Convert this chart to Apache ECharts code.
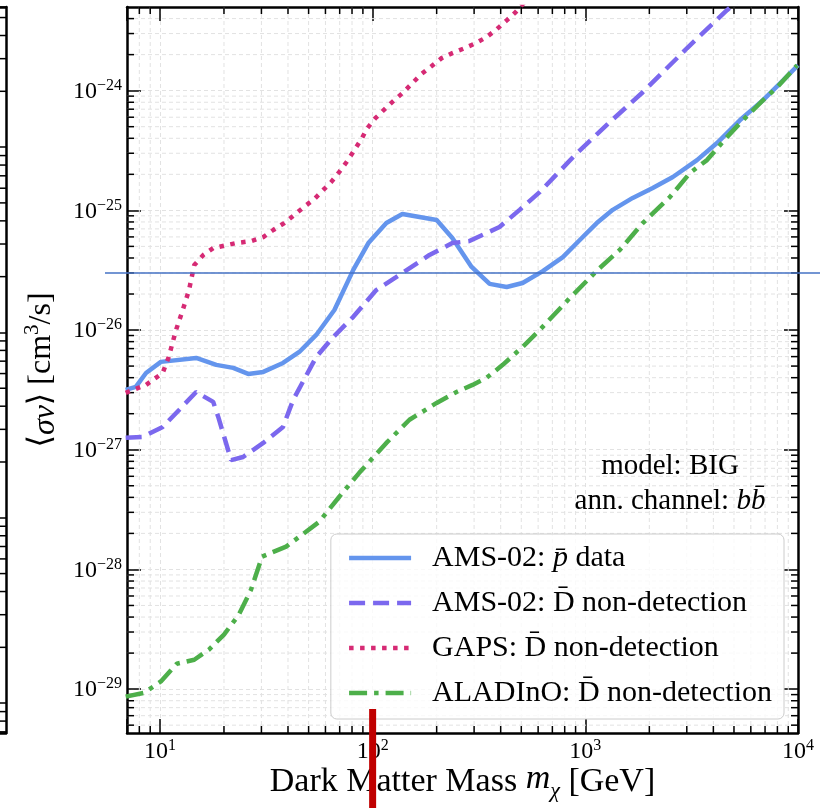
<!DOCTYPE html>
<html><head><meta charset="utf-8">
<script src="https://cdn.jsdelivr.net/npm/echarts@6/dist/echarts.min.js"></script>
<style>html,body{margin:0;padding:0;background:#fff}#c{width:832px;height:808px}</style>
</head><body><div id="c"></div>
<script>
// ---------------- data ----------------
const xRange = [7, 10000];
const yRange = [4.3e-30, 5e-24];
const xTickExponents = [1, 2, 3, 4];
const yTickExponents = [-29, -28, -27, -26, -25, -24];

const seriesNames = ['AMS-02: p̄ data', 'AMS-02: D̄ non-detection', 'GAPS: D̄ non-detection', 'ALADInO: D̄ non-detection'];

const amsPbarMass  = [6.9, 7.7, 8.6, 10.1, 14.8, 18.4, 22.1, 26.0, 30.6, 37.9, 45.2, 54.3, 66.1, 81.1, 95.5, 116, 138, 200, 237, 292, 355, 427, 507, 631, 784, 942, 1132, 1346, 1671, 2075, 2580, 3350, 4160, 5340, 6850, 8510, 10000];
const amsPbarSigma = [3.16e-27, 3.35e-27, 4.38e-27, 5.42e-27, 5.85e-27, 5.12e-27, 4.83e-27, 4.3e-27, 4.47e-27, 5.31e-27, 6.56e-27, 9.1e-27, 1.47e-26, 3.18e-26, 5.33e-26, 7.83e-26, 9.31e-26, 8.3e-26, 5.88e-26, 3.37e-26, 2.43e-26, 2.29e-26, 2.47e-26, 3.11e-26, 4.07e-26, 5.65e-26, 7.83e-26, 1.01e-25, 1.27e-25, 1.54e-25, 1.9e-25, 2.63e-25, 3.65e-25, 5.68e-25, 8.33e-25, 1.22e-24, 1.63e-24];

const amsDbarMass  = [6.9, 8.3, 10.3, 12.3, 14.8, 17.8, 18.8, 21.6, 24.6, 30.6, 37.9, 42.3, 54.3, 65.3, 81.1, 104, 129, 185, 237, 285, 395, 491, 610, 912, 1304, 1862, 3003, 4634, 5630];
const amsDbarSigma = [1.26e-27, 1.28e-27, 1.55e-27, 2.15e-27, 3.04e-27, 2.51e-27, 1.88e-27, 8.2e-28, 8.7e-28, 1.14e-27, 1.55e-27, 2.61e-27, 5.96e-27, 8.75e-27, 1.29e-26, 2.16e-26, 2.77e-26, 4.24e-26, 5.33e-26, 5.54e-26, 7.26e-26, 1.01e-25, 1.42e-25, 3.0e-25, 5.46e-25, 9.7e-25, 2.26e-24, 4.7e-24, 6.3e-24];

const gapsMass  = [6.9, 8.6, 10.3, 11.0, 11.9, 12.8, 13.7, 14.5, 16.0, 17.8, 22.8, 26.9, 30.6, 34.1, 38.4, 42.8, 47.6, 53.1, 57.9, 63.8, 69.6, 76.0, 82.0, 88.5, 94.4, 103, 114, 125, 138, 154, 169, 189, 211, 237, 270, 305, 343, 383, 427, 470, 518];
const gapsSigma = [2.99e-27, 3.48e-27, 4.38e-27, 5.96e-27, 1.0e-26, 1.47e-26, 2.16e-26, 3.49e-26, 4.24e-26, 4.84e-26, 5.33e-26, 5.54e-26, 5.98e-26, 6.85e-26, 7.83e-26, 9.14e-26, 1.07e-25, 1.24e-25, 1.45e-25, 1.72e-25, 2.09e-25, 2.58e-25, 3.18e-25, 3.93e-25, 4.86e-25, 5.89e-25, 7.01e-25, 8.17e-25, 9.53e-25, 1.16e-24, 1.37e-24, 1.6e-24, 1.87e-24, 2.06e-24, 2.26e-24, 2.49e-24, 2.8e-24, 3.26e-24, 3.87e-24, 4.52e-24, 5.5e-24];

const aladinoMass  = [6.9, 8.4, 10.1, 12.0, 14.5, 17.0, 20.0, 23.5, 26.8, 30.2, 39.2, 56.1, 69.7, 86.5, 116, 149, 200, 248, 295, 343, 409, 507, 610, 845, 1143, 1452, 1862, 2497, 3104, 3733, 4634, 5340, 6850, 7980, 9900];
const aladinoSigma = [8.65e-30, 9.3e-30, 1.16e-29, 1.63e-29, 1.76e-29, 2.14e-29, 2.85e-29, 4.19e-29, 6.76e-29, 1.28e-28, 1.55e-28, 2.5e-28, 4.05e-28, 6.41e-28, 1.14e-27, 1.78e-27, 2.46e-27, 3.04e-27, 3.48e-27, 3.98e-27, 5.12e-27, 7.23e-27, 1.0e-26, 1.85e-26, 3.18e-26, 4.67e-26, 7.83e-26, 1.29e-25, 2.05e-25, 2.63e-25, 4.09e-25, 5.36e-25, 8.33e-25, 1.07e-24, 1.63e-24];

const thermalRelic = [3e-26];
const markerMass = [100];
const leftPanelRange = [0.69, 5700];

// ---------------- style ----------------
const FONT = '"Liberation Serif", "DejaVu Serif", serif';
const GRIDC = '#e2e2e2';
const MINOR_LEN = 7, MAJOR_LEN = 14;

const pair = (xs, ys) => xs.map((x, i) => [x, ys[i]]);

function minorList(lo, hi, eFrom, eTo) {
  const out = [];
  for (let e = eFrom; e <= eTo; e++) for (let k = 2; k <= 9; k++) {
    const v = k * Math.pow(10, e);
    if (v > lo * 1.0001 && v < hi * 0.9999) out.push(v);
  }
  return out;
}
const xMinor = minorList(xRange[0], xRange[1], 0, 3);
const yMinor = minorList(yRange[0], yRange[1], -30, -24);
const leftMinor = minorList(leftPanelRange[0], leftPanelRange[1], -1, 3);

function expLabel(v, list) {
  const l = Math.log10(v), e = Math.round(l);
  if (Math.abs(l - e) > 1e-6 || list.indexOf(e) < 0) return '';
  return '{b|10}{sup|' + (e < 0 ? '\u2212' + (-e) : e) + '}';
}
const tickRich = {
  b: {fontFamily: FONT, fontSize: 24, lineHeight: 26, verticalAlign: 'bottom', color: '#000'},
  sup: {fontFamily: FONT, fontSize: 16, lineHeight: 16, verticalAlign: 'top', color: '#000'}
};

function xMinorRender(params, api) {
  const cs = params.coordSys;
  const x = api.coord([api.value(0), 1e-27])[0];
  const top = cs.y, bottom = cs.y + cs.height;
  return {type: 'group', children: [
    {type: 'line', shape: {x1: x, y1: top, x2: x, y2: bottom}, style: {stroke: GRIDC, lineWidth: 1, lineDash: [4, 3]}},
    {type: 'line', shape: {x1: x, y1: bottom, x2: x, y2: bottom - MINOR_LEN}, style: {stroke: '#000', lineWidth: 1.5}},
    {type: 'line', shape: {x1: x, y1: top, x2: x, y2: top + MINOR_LEN}, style: {stroke: '#000', lineWidth: 1.5}}
  ]};
}
function yMinorRender(params, api) {
  const cs = params.coordSys;
  const y = api.coord([100, api.value(1)])[1];
  const left = cs.x, right = cs.x + cs.width;
  return {type: 'group', children: [
    {type: 'line', shape: {x1: left, y1: y, x2: right, y2: y}, style: {stroke: GRIDC, lineWidth: 1, lineDash: [4, 3]}},
    {type: 'line', shape: {x1: left, y1: y, x2: left + MINOR_LEN, y2: y}, style: {stroke: '#000', lineWidth: 1.5}},
    {type: 'line', shape: {x1: right, y1: y, x2: right - MINOR_LEN, y2: y}, style: {stroke: '#000', lineWidth: 1.5}}
  ]};
}
function leftMinorRender(params, api) {
  const cs = params.coordSys;
  const y = api.coord([0.5, api.value(1)])[1];
  const right = cs.x + cs.width;
  return {type: 'line', shape: {x1: right, y1: y, x2: right - MINOR_LEN, y2: y}, style: {stroke: '#000', lineWidth: 1.5}};
}

const frameLine = () => ({onZero: false, lineStyle: {color: '#000', width: 2.5}});
const majorTick = () => ({inside: true, length: MAJOR_LEN, lineStyle: {color: '#000', width: 1.5}});
const gridSplit = () => ({show: true, lineStyle: {color: GRIDC, type: [4, 3], width: 1}});

const legendLabels = {};
legendLabels[seriesNames[0]] = 'AMS-02: {i|p\u0304} data';
legendLabels[seriesNames[1]] = 'AMS-02: D\u0304 non-detection';
legendLabels[seriesNames[2]] = 'GAPS: D\u0304 non-detection';
legendLabels[seriesNames[3]] = 'ALADInO: D\u0304 non-detection';

const gridBase = {containLabel: false, outerBoundsMode: 'none'};

const option = {
  animation: false,
  backgroundColor: '#fff',
  grid: [
    Object.assign({left: 127, right: 34, top: 7, bottom: 75}, gridBase),
    Object.assign({left: 0, right: 826, top: 7, bottom: 75}, gridBase),
    Object.assign({left: 105, right: 12, top: 7, bottom: 75}, gridBase),
    Object.assign({left: 127, right: 34, top: 709, bottom: 0}, gridBase)
  ],
  xAxis: [
    {type: 'log', gridIndex: 0, min: xRange[0], max: xRange[1], position: 'bottom',
     axisLine: frameLine(), axisTick: majorTick(), splitLine: gridSplit(),
     axisLabel: {margin: 5, formatter: v => expLabel(v, xTickExponents), rich: tickRich, showMinLabel: true, showMaxLabel: true, hideOverlap: false},
     name: 'Dark Matter Mass {i|m}{sub|\u03c7} [GeV]', nameLocation: 'middle', nameGap: 29, nameMoveOverlap: false,
     nameTextStyle: {fontFamily: FONT, fontSize: 34, color: '#000', rich: {
       i: {fontFamily: FONT, fontSize: 34, fontStyle: 'italic', lineHeight: 40, verticalAlign: 'top', color: '#000'},
       sub: {fontFamily: FONT, fontSize: 22, fontStyle: 'italic', lineHeight: 22, padding: [21, 0, 0, 0], verticalAlign: 'bottom', color: '#000'}
     }, lineHeight: 40, verticalAlign: 'top'}},
    {type: 'log', gridIndex: 0, min: xRange[0], max: xRange[1], position: 'top',
     axisLine: frameLine(), axisTick: majorTick(), splitLine: {show: false}, axisLabel: {show: false}},
    {type: 'value', gridIndex: 1, min: 0, max: 1, position: 'top', axisLine: frameLine(), axisTick: {show: false}, axisLabel: {show: false}, splitLine: {show: false}},
    {type: 'value', gridIndex: 1, min: 0, max: 1, position: 'bottom', axisLine: frameLine(), axisTick: {show: false}, axisLabel: {show: false}, splitLine: {show: false}},
    {type: 'value', gridIndex: 2, min: 0, max: 1, show: false},
    {type: 'log', gridIndex: 3, min: xRange[0], max: xRange[1], show: false}
  ],
  yAxis: [
    {type: 'log', gridIndex: 0, min: yRange[0], max: yRange[1], position: 'left',
     axisLine: frameLine(), axisTick: majorTick(), splitLine: gridSplit(),
     axisLabel: {margin: 5, formatter: v => expLabel(v, yTickExponents), rich: tickRich, showMinLabel: true, showMaxLabel: true, hideOverlap: false},
     name: '\u27e8{i|\u03c3v}\u27e9 [cm{sup|3}/s]', nameLocation: 'middle', nameRotate: 90, nameGap: 65, nameMoveOverlap: false,
     nameTextStyle: {fontFamily: FONT, fontSize: 32, color: '#000', lineHeight: 40, rich: {
       i: {fontFamily: FONT, fontSize: 32, fontStyle: 'italic', lineHeight: 40, verticalAlign: 'bottom', color: '#000'},
       sup: {fontFamily: FONT, fontSize: 21, lineHeight: 21, verticalAlign: 'top', color: '#000'}
     }}},
    {type: 'log', gridIndex: 0, min: yRange[0], max: yRange[1], position: 'right',
     axisLine: frameLine(), axisTick: majorTick(), splitLine: {show: false}, axisLabel: {show: false}},
    {type: 'log', gridIndex: 1, min: leftPanelRange[0], max: leftPanelRange[1], position: 'right',
     axisLine: frameLine(), axisTick: majorTick(), splitLine: {show: false}, axisLabel: {show: false}},
    {type: 'log', gridIndex: 2, min: yRange[0], max: yRange[1], show: false},
    {type: 'value', gridIndex: 3, min: 0, max: 1, show: false}
  ],
  legend: {
    data: seriesNames, right: 48, bottom: 89, orient: 'vertical', align: 'left',
    itemWidth: 62, itemHeight: 14, itemGap: 9, selectedMode: false,
    backgroundColor: 'rgba(255,255,255,0.8)', borderColor: '#cccccc', borderWidth: 1, borderRadius: 6,
    padding: [6, 12, 8, 16],
    lineStyle: {width: 4.5},
    itemStyle: {opacity: 0},
    formatter: n => legendLabels[n],
    textStyle: {fontFamily: FONT, fontSize: 30, color: '#000', lineHeight: 36, padding: [0, 0, 0, 16],
      rich: {i: {fontFamily: FONT, fontSize: 30, fontStyle: 'italic', lineHeight: 36, color: '#000'}}}
  },
  graphic: [
    {type: 'text', x: 670, y: 449, silent: true, z: 10,
     style: {text: 'model: BIG\nann. channel: {i|b}{i|b\u0304}', align: 'center', verticalAlign: 'top',
       fontFamily: FONT, fontSize: 29, lineHeight: 35, fill: '#000',
       rich: {i: {fontFamily: FONT, fontSize: 29, fontStyle: 'italic', lineHeight: 35, fill: '#000'}}}}
  ],
  series: [
    {type: 'custom', xAxisIndex: 0, yAxisIndex: 0, renderItem: xMinorRender, data: xMinor.map(v => [v, 1e-27]), silent: true, z: 1, clip: false},
    {type: 'custom', xAxisIndex: 0, yAxisIndex: 0, renderItem: yMinorRender, data: yMinor.map(v => [100, v]), silent: true, z: 1, clip: false},
    {type: 'custom', xAxisIndex: 2, yAxisIndex: 2, renderItem: leftMinorRender, data: leftMinor.map(v => [0.5, v]), silent: true, z: 1, clip: false},
    {name: seriesNames[0], type: 'line', xAxisIndex: 0, yAxisIndex: 0, data: pair(amsPbarMass, amsPbarSigma), symbol: 'none', clip: true,
     lineStyle: {color: '#6495ed', width: 4.5}, itemStyle: {color: '#6495ed'}, z: 3},
    {name: seriesNames[1], type: 'line', xAxisIndex: 0, yAxisIndex: 0, data: pair(amsDbarMass, amsDbarSigma), symbol: 'none', clip: true,
     lineStyle: {color: '#7b68ee', width: 4.5, type: [16, 8]}, itemStyle: {color: '#7b68ee'}, z: 3},
    {name: seriesNames[2], type: 'line', xAxisIndex: 0, yAxisIndex: 0, data: pair(gapsMass, gapsSigma), symbol: 'none', clip: true,
     lineStyle: {color: '#d62a74', width: 4.5, type: [4.5, 6.5]}, itemStyle: {color: '#d62a74'}, z: 3},
    {name: seriesNames[3], type: 'line', xAxisIndex: 0, yAxisIndex: 0, data: pair(aladinoMass, aladinoSigma), symbol: 'none', clip: true,
     lineStyle: {color: '#4daf4a', width: 4.5, type: [18, 7, 4.5, 7]}, itemStyle: {color: '#4daf4a'}, z: 3},
    {name: 'thermal', type: 'line', xAxisIndex: 4, yAxisIndex: 3, data: [[0, thermalRelic[0]], [1, thermalRelic[0]]], symbol: 'none', silent: true,
     lineStyle: {color: '#4472c4', width: 1.5}, z: 5},
    {name: 'marker', type: 'line', xAxisIndex: 5, yAxisIndex: 4, data: [[markerMass[0], 0], [markerMass[0], 1]], symbol: 'none', silent: true,
     lineStyle: {color: '#c00000', width: 7, cap: 'butt'}, z: 20}
  ]
};
const chart = echarts.init(document.getElementById('c'), null, {renderer: 'canvas'});
chart.setOption(option);
</script>
</body></html>
